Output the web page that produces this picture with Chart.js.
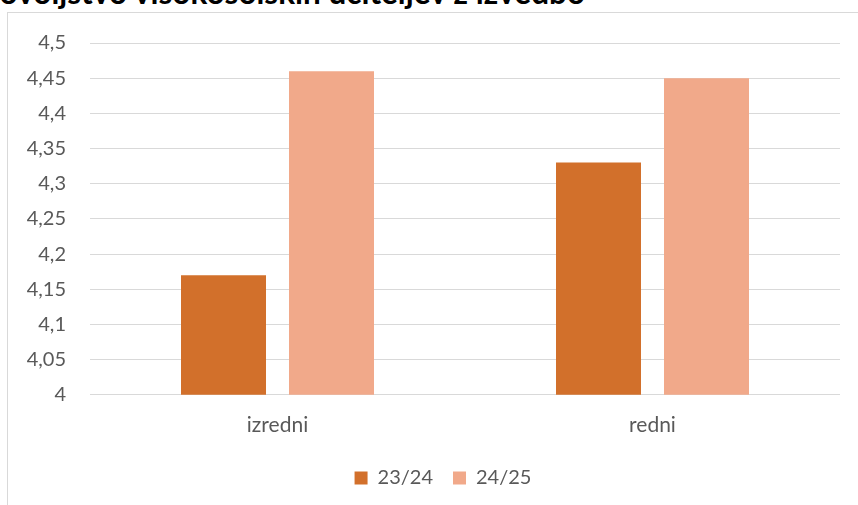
<!DOCTYPE html>
<html>
<head>
<meta charset="utf-8">
<script src="https://cdn.jsdelivr.net/npm/chart.js@4/dist/chart.umd.min.js"></script>
<style>
  html, body { margin: 0; padding: 0; background: #fff; }
  body { width: 858px; height: 505px; position: relative; overflow: hidden; }
  #frame { position: absolute; left: 7px; top: 12px; width: 900px; height: 600px; border: 1px solid #d9d9d9; box-sizing: border-box; }
  #title { position: absolute; right: 273px; top: -27px; white-space: nowrap; font-family: Lato, sans-serif; font-weight: bold; font-size: 31.5px; color: #000; }
  #wrap { position: absolute; left: 0; top: 0; width: 858px; height: 505px; }
</style>
</head>
<body>
<div id="frame"></div>
<div id="title">Zadovoljstvo visokošolskih učiteljev z izvedbo</div>
<div id="wrap"><canvas id="chart"></canvas></div>
<script>
const categories = ["izredni", "redni"];
const seriesNames = ["23/24", "24/25"];
const values2324 = [4.17, 4.33];
const values2425 = [4.46, 4.45];
const yTickLabels = ["4", "4,05", "4,1", "4,15", "4,2", "4,25", "4,3", "4,35", "4,4", "4,45", "4,5"];

const textColor = '#595959';
const font = { family: 'Lato, sans-serif', size: 20 };

// legend in the original sits a bit right of the canvas centre
const shiftLegend = {
  id: 'shiftLegend',
  afterLayout(chart) {
    chart.legend.left += 23;
    chart.legend.right += 23;
  }
};

const ctx = document.getElementById('chart').getContext('2d');
new Chart(ctx, {
  type: 'bar',
  data: {
    labels: categories,
    datasets: [
      {
        label: seriesNames[0],
        data: values2324,
        backgroundColor: '#d2702b',
        categoryPercentage: 0.576,
        barPercentage: 0.787
      },
      {
        label: seriesNames[1],
        data: values2425,
        backgroundColor: '#f1a98a',
        categoryPercentage: 0.576,
        barPercentage: 0.787
      }
    ]
  },
  options: {
    responsive: true,
    maintainAspectRatio: false,
    animation: false,
    layout: { padding: { left: 0, right: 18, top: 43, bottom: 7 } },
    plugins: {
      tooltip: { enabled: false },
      title: { display: false },
      legend: {
        position: 'bottom',
        labels: {
          color: textColor,
          font: font,
          boxWidth: 13,
          boxHeight: 13,
          padding: 20
        }
      }
    },
    scales: {
      x: {
        grid: { display: false },
        border: { display: false },
        ticks: { color: textColor, font: { family: 'Lato, sans-serif', size: 21 }, padding: 10 }
      },
      y: {
        min: 4,
        max: 4.5,
        afterFit: (axis) => { axis.width = 90; },
        grid: { color: '#d9d9d9', lineWidth: 1, drawTicks: false },
        border: { display: false },
        ticks: {
          stepSize: 0.05,
          color: textColor,
          font: font,
          padding: 24,
          callback: (value, index) => yTickLabels[index]
        }
      }
    }
  },
  plugins: [shiftLegend]
});
</script>
</body>
</html>
